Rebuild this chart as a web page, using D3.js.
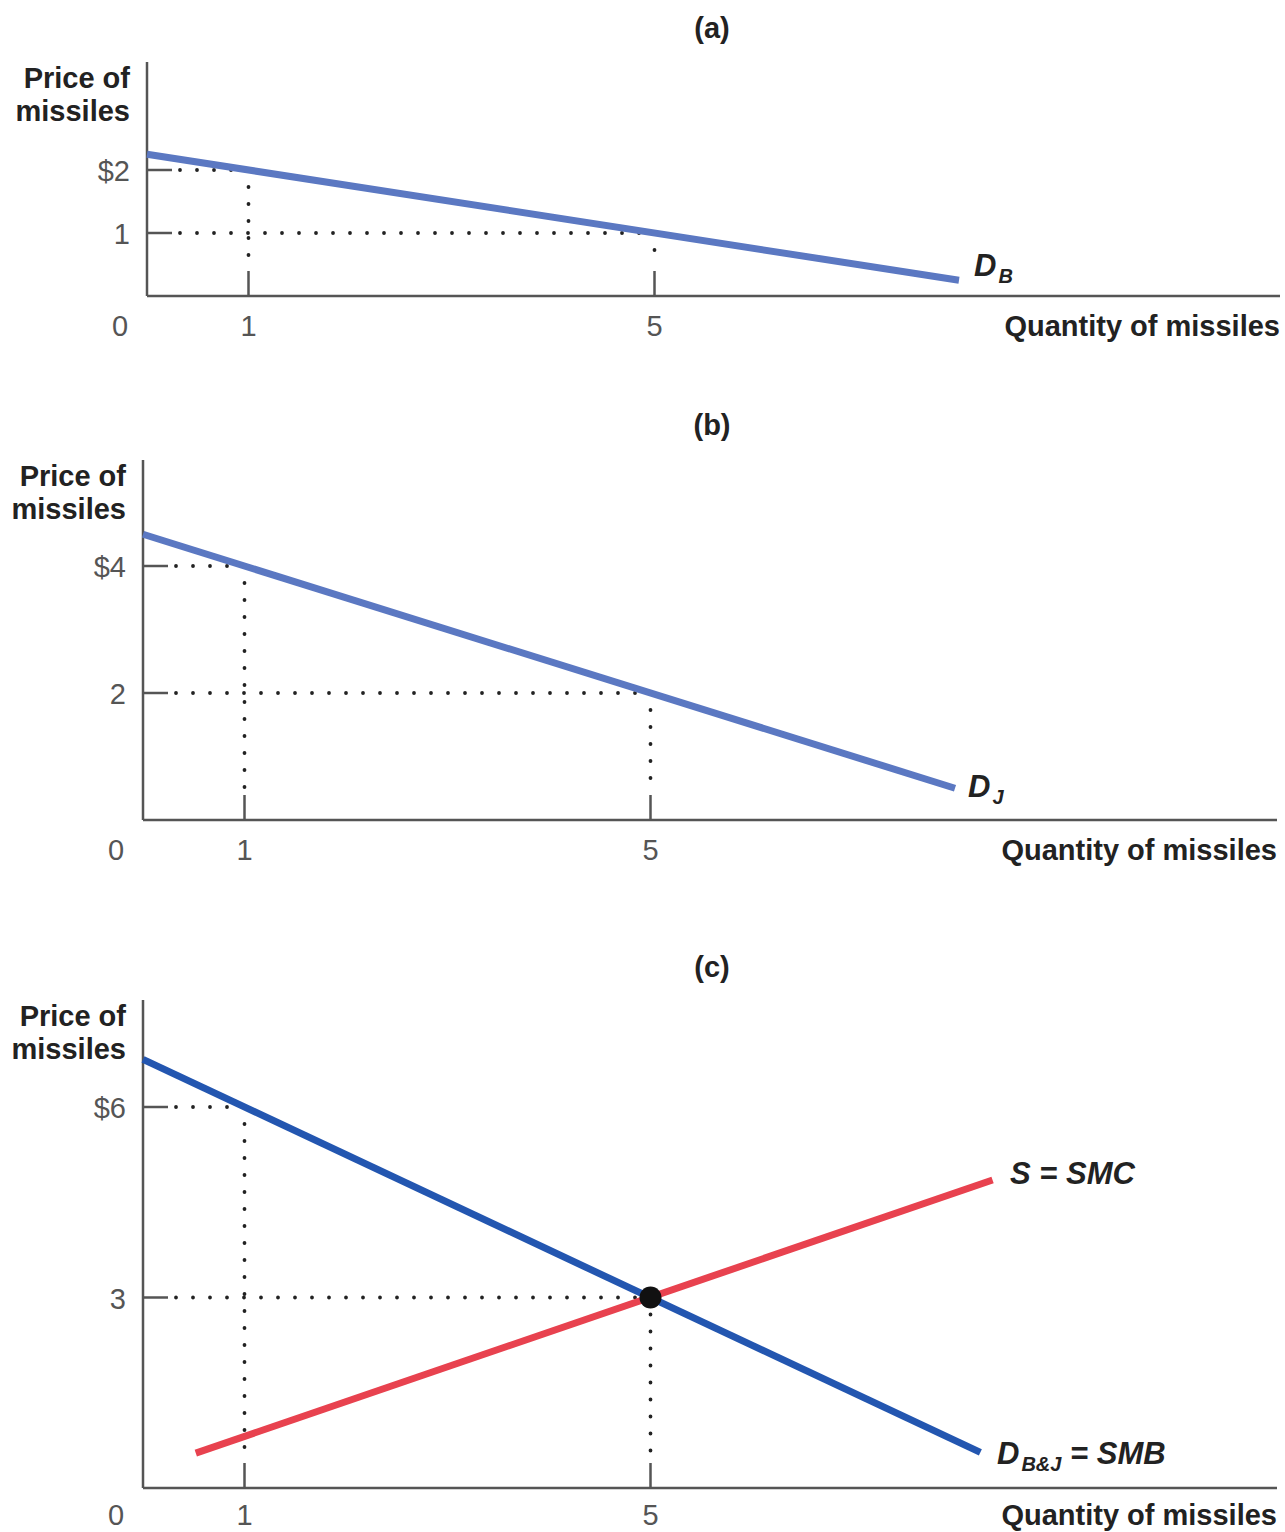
<!DOCTYPE html>
<html lang="en">
<head>
  <meta charset="UTF-8" />
  <title>Missiles - public good demand</title>
  <style>
    body { margin: 0; background: #fff; }
    svg { display: block; }
    text { font-family: "Liberation Sans Narrow", "Liberation Sans", Arial, sans-serif; fill: #222; }
    .bold { font-weight: bold; }
    .tick-label { font-size: 29px; fill: #555; }
    .axis-line { stroke: #555; stroke-width: 2.5; }
    .guide { stroke: #222; stroke-width: 3.8; stroke-linecap: round; stroke-dasharray: 0 17; }
  </style>
</head>
<body>
  <svg width="1285" height="1532"></svg>

  <script src="https://cdnjs.cloudflare.com/ajax/libs/d3/7.8.5/d3.min.js"></script>
  <script>
    // values
    const xTicks = [1, 5];
    const yTicksA = [{ v: 2, label: "$2" }, { v: 1, label: "1" }];
    const yTicksB = [{ v: 4, label: "$4" }, { v: 2, label: "2" }];
    const yTicksC = [{ v: 6, label: "$6" }, { v: 3, label: "3" }];

    // [quantity, price] at each end of the curves
    const demandB = [[0, 2.25], [8, 0.25]];
    const demandJ = [[0, 4.5], [8, 0.5]];
    const demandBJ = [[0, 6.75], [8.25, 0.56]];
    const supply = [[0.52, 0.55], [8.37, 4.85]];

    // guide points (q, p) for dotted lines
    const guidesA = [[1, 2], [5, 1]];
    const guidesB = [[1, 4], [5, 2]];
    const guidesC = [[1, 6], [5, 3]];
    const equilibrium = [[5, 3]];

    const svg = d3.select("svg");

    const panels = [
      {
        title: "(a)", titleY: 28, x0: 147, xEnd: 1280, top: 62, y0: 296, unitY: 63, labelDy: 40,
        yTicks: yTicksA, guides: guidesA,
        curves: [{ pts: demandB, color: "#5b78c2", label: "D", sub: "B", lx: 974, ly: 276 }]
      },
      {
        title: "(b)", titleY: 425, x0: 143, xEnd: 1277, top: 460, y0: 820, unitY: 63.5, labelDy: 40,
        yTicks: yTicksB, guides: guidesB,
        curves: [{ pts: demandJ, color: "#5b78c2", label: "D", sub: "J", lx: 968, ly: 797 }]
      },
      {
        title: "(c)", titleY: 967, x0: 143, xEnd: 1277, top: 1000, y0: 1488, unitY: 63.5, labelDy: 37,
        yTicks: yTicksC, guides: guidesC, dot: equilibrium,
        curves: [
          { pts: supply, color: "#e8424f", label: "S = SMC", lx: 1010, ly: 1184 },
          { pts: demandBJ, color: "#2356b0", label: "D", sub: "B&J", tail: " = SMB", lx: 997, ly: 1464 }
        ]
      }
    ];

    panels.forEach(p => {
      const g = svg.append("g");
      const x = d3.scaleLinear().domain([0, 1]).range([p.x0, p.x0 + 101.5]);
      const y = d3.scaleLinear().domain([0, 1]).range([p.y0, p.y0 - p.unitY]);

      // title
      g.append("text").attr("class", "bold")
        .attr("x", 712).attr("y", p.titleY + 10)
        .attr("text-anchor", "middle").attr("font-size", 29)
        .text(p.title);

      // dotted guides
      p.guides.forEach(([q, v]) => {
        g.append("line").attr("class", "guide")
          .attr("x1", p.x0 + 33).attr("x2", x(q))
          .attr("y1", y(v)).attr("y2", y(v));
        g.append("line").attr("class", "guide")
          .attr("x1", x(q)).attr("x2", x(q))
          .attr("y1", y(v)).attr("y2", p.y0 - 30);
      });

      // axes
      g.append("line").attr("class", "axis-line")
        .attr("x1", p.x0).attr("x2", p.x0).attr("y1", p.top).attr("y2", p.y0);
      g.append("line").attr("class", "axis-line")
        .attr("x1", p.x0).attr("x2", p.xEnd).attr("y1", p.y0).attr("y2", p.y0);

      // y ticks
      p.yTicks.forEach(t => {
        g.append("line").attr("class", "axis-line")
          .attr("x1", p.x0).attr("x2", p.x0 + 25)
          .attr("y1", y(t.v)).attr("y2", y(t.v));
        g.append("text").attr("class", "tick-label")
          .attr("x", p.x0 - 17).attr("y", y(t.v) + 11)
          .attr("text-anchor", "end").text(t.label);
      });

      // x ticks
      xTicks.forEach(t => {
        g.append("line").attr("class", "axis-line")
          .attr("x1", x(t)).attr("x2", x(t))
          .attr("y1", p.y0).attr("y2", p.y0 - 25);
        g.append("text").attr("class", "tick-label")
          .attr("x", x(t)).attr("y", p.y0 + p.labelDy)
          .attr("text-anchor", "middle").text(t);
      });
      g.append("text").attr("class", "tick-label")
        .attr("x", p.x0 - 27).attr("y", p.y0 + p.labelDy)
        .attr("text-anchor", "middle").text("0");

      // axis titles
      const yt = g.append("text").attr("class", "bold")
        .attr("text-anchor", "end").attr("font-size", 29);
      yt.append("tspan").attr("x", p.x0 - 17).attr("y", p.top + 26).text("Price of");
      yt.append("tspan").attr("x", p.x0 - 17).attr("y", p.top + 59).text("missiles");

      g.append("text").attr("class", "bold")
        .attr("x", p.xEnd).attr("y", p.y0 + p.labelDy)
        .attr("text-anchor", "end").attr("font-size", 29)
        .text("Quantity of missiles");

      // curves
      const line = d3.line().x(d => x(d[0])).y(d => y(d[1]));
      p.curves.forEach(c => {
        g.append("path").datum(c.pts)
          .attr("d", line)
          .attr("fill", "none")
          .attr("stroke", c.color)
          .attr("stroke-width", 7);

        const lt = g.append("text").attr("class", "bold")
          .attr("x", c.lx).attr("y", c.ly)
          .attr("font-size", 31).attr("font-style", "italic");
        lt.append("tspan").text(c.label);
        if (c.sub) {
          lt.append("tspan").attr("font-size", 20).attr("dy", 7).attr("dx", 2).text(c.sub);
        }
        if (c.tail) {
          lt.append("tspan").attr("dy", -7).text(c.tail);
        }
      });

      // equilibrium point
      if (p.dot) {
        g.selectAll("circle.eq").data(p.dot).join("circle")
          .attr("class", "eq")
          .attr("cx", d => x(d[0])).attr("cy", d => y(d[1]))
          .attr("r", 11).attr("fill", "#111");
      }
    });
  </script>
</body>
</html>
